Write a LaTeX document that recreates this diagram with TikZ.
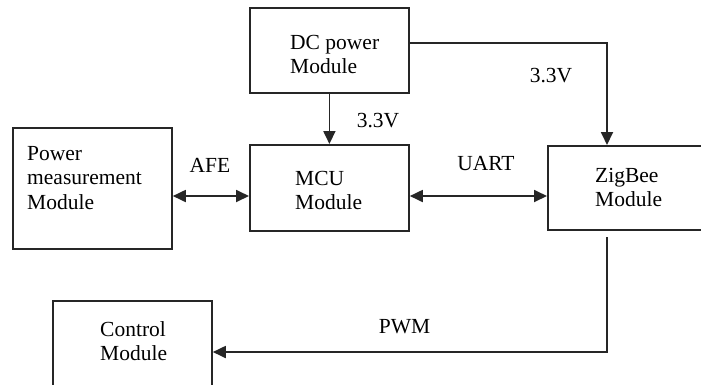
\documentclass[tikz,border=0pt]{standalone}
\usepackage{fontspec}
\setmainfont{Liberation Serif}
\usetikzlibrary{arrows.meta}
\begin{document}
\begin{tikzpicture}[x=1pt,y=-1pt,
  box/.style={draw=black!85, line width=1.8pt, rectangle, inner sep=0pt, anchor=north west},
  txt/.style={inner sep=0pt, anchor=north west, align=left, font=\fontsize{21.5}{24.5}\selectfont},
  lbl/.style={inner sep=0pt, font=\fontsize{21.5}{24.5}\selectfont},
  conn/.style={line width=1.8pt, draw=black!85, -{Triangle[length=13pt,width=12pt]}},
  biconn/.style={line width=1.8pt, draw=black!85, {Triangle[length=13pt,width=12pt]}-{Triangle[length=13pt,width=12pt]}},
]
\clip (0,0) rectangle (701,384);
\fill[white] (0,0) rectangle (701,384);

% boxes
\node[box, minimum width=159pt, minimum height=85pt]  (dc)   at (249,7)   {};
\node[box, minimum width=159pt, minimum height=121pt] (pm)   at (12,127)  {};
\node[box, minimum width=159pt, minimum height=86pt]  (mcu)  at (249,144) {};
\node[box, minimum width=180pt, minimum height=84pt]  (zb)   at (547,145) {};
\node[box, minimum width=159pt, minimum height=110pt] (ctrl) at (52,300)  {};

% box texts
\node[txt] (dcT)   at (290,35)  {DC power\\Module};
\node[txt] (pmT)   at (27,146)  {Power\\measurement\\Module};
\node[txt] (mcuT)  at (295,171) {MCU\\Module};
\node[txt] (zbT)   at (595,168) {ZigBee\\Module};
\node[txt] (ctrlT) at (100,321) {Control\\Module};

% connector labels
\node[lbl] (v1)   at (378,121) {3.3V};
\node[lbl] (v2)   at (551,76)  {3.3V};
\node[lbl] (afe)  at (210,165) {AFE};
\node[lbl] (uart) at (486,164) {UART};
\node[lbl] (pwm)  at (404.5,327) {PWM};

% helper coordinates
\coordinate (busY) at (0,196);
\coordinate (zbX)  at (607,0);
\coordinate (pwmStart) at (607,237);
\coordinate (pwmY) at (0,352);

% connectors
\draw[conn] (dc.south) -- (mcu.north);
\draw[conn] ([yshift=7.5pt]dc.east) -| (zbX |- zb.north);
\draw[biconn] (pm.east |- busY) -- (mcu.west |- busY);
\draw[biconn] (mcu.east |- busY) -- (zb.west |- busY);
\draw[conn] (pwmStart) |- (ctrl.east |- pwmY);
\end{tikzpicture}
\end{document}
